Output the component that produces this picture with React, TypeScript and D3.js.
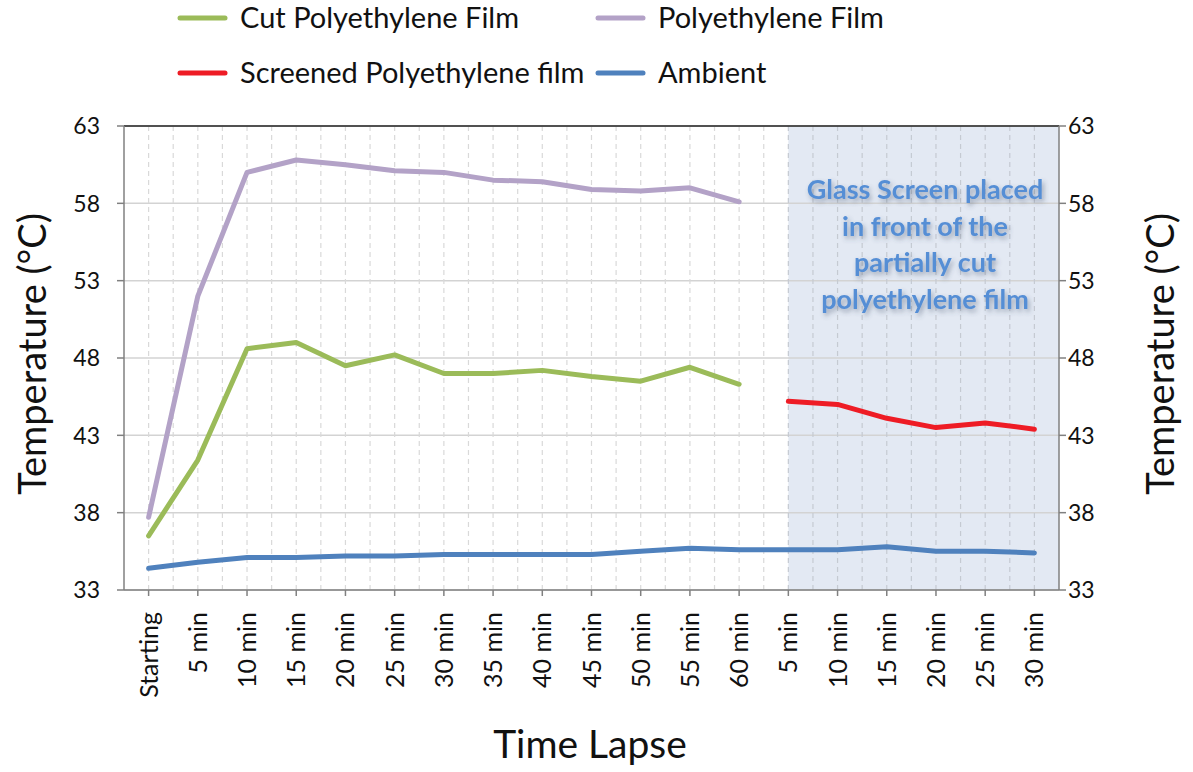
import React from 'react';
import * as d3 from 'd3';

const categories = [
  'Starting', '5 min', '10 min', '15 min', '20 min', '25 min', '30 min', '35 min', '40 min',
  '45 min', '50 min', '55 min', '60 min', '5 min', '10 min', '15 min', '20 min', '25 min', '30 min',
];

const cutFilm = [36.5, 41.4, 48.6, 49.0, 47.5, 48.2, 47.0, 47.0, 47.2, 46.8, 46.5, 47.4, 46.3,
  null, null, null, null, null, null];
const film = [37.7, 52.0, 60.0, 60.8, 60.5, 60.1, 60.0, 59.5, 59.4, 58.9, 58.8, 59.0, 58.1,
  null, null, null, null, null, null];
const screened = [null, null, null, null, null, null, null, null, null, null, null, null, null,
  45.2, 45.0, 44.1, 43.5, 43.8, 43.4];
const ambient = [34.4, 34.8, 35.1, 35.1, 35.2, 35.2, 35.3, 35.3, 35.3, 35.3, 35.5, 35.7, 35.6,
  35.6, 35.6, 35.8, 35.5, 35.5, 35.4];

const yTicks = [33, 38, 43, 48, 53, 58, 63];
const annotation = ['Glass Screen placed', 'in front of the', 'partially cut', 'polyethylene film'];

const series = [
  { name: 'Cut Polyethylene Film', values: cutFilm, color: '#9BBB59' },
  { name: 'Polyethylene Film', values: film, color: '#B3A2C7' },
  { name: 'Screened Polyethylene film', values: screened, color: '#EE1C25' },
  { name: 'Ambient', values: ambient, color: '#4F81BD' },
];

const W = 1193, H = 772;
const left = 124, right = 1059, top = 126, bottom = 590;
const FONT = 'Lato, "Open Sans", sans-serif';

export default function App() {
  const idx = categories.map((_, i) => i);
  const x = d3.scaleBand<number>().domain(idx).range([left, right]);
  const bw = x.bandwidth();
  const cx = (i: number) => (x(i) as number) + bw / 2;
  const y = d3.scaleLinear().domain([33, 63]).range([bottom, top]);

  const line = d3.line<number | null>()
    .defined(d => d !== null)
    .x((_, i) => cx(i))
    .y(d => y(d as number));

  // dashed verticals at every half band
  const halfLines: number[] = [];
  idx.forEach(i => {
    halfLines.push(cx(i));
    if (i < idx.length - 1) halfLines.push((x(i) as number) + bw);
  });

  const shadeX = cx(13);
  const annX = 925;

  const legend = [
    { s: series[0], lx: 180, ly: 18 },
    { s: series[1], lx: 598, ly: 18 },
    { s: series[2], lx: 180, ly: 73 },
    { s: series[3], lx: 598, ly: 73 },
  ];

  return (
    <svg width={W} height={H} style={{ position: 'absolute', left: 0, top: 0, background: '#fff' }}
      fontFamily={FONT}>
      <defs>
        <filter id="shadow" x="-10%" y="-30%" width="120%" height="160%">
          <feDropShadow dx="2" dy="3" stdDeviation="2.5" floodColor="#3a4a66" floodOpacity="0.45" />
        </filter>
      </defs>

      {/* shaded region */}
      <rect x={shadeX} y={top} width={right - shadeX} height={bottom - top} fill="#E3E9F3" />

      {/* horizontal gridlines */}
      {yTicks.map(t => (
        <line key={'h' + t} x1={left} x2={right} y1={y(t)} y2={y(t)} stroke="#D3D3D3" strokeWidth={1.5} />
      ))}

      {/* vertical dashed gridlines */}
      {halfLines.map((v, i) => (
        <line key={'v' + i} x1={v} x2={v} y1={top} y2={bottom}
          stroke={v >= shadeX - 1 ? '#C5CAD2' : '#D9D9D9'} strokeWidth={1.2} strokeDasharray="5,4" />
      ))}

      {/* top border */}
      <line x1={left} x2={right} y1={top} y2={top} stroke="#222" strokeWidth={1.5} />

      {/* left axis */}
      <line x1={left} x2={left} y1={top} y2={bottom} stroke="#808080" strokeWidth={1.5} />
      {yTicks.map(t => (
        <g key={'ly' + t}>
          <line x1={left - 7} x2={left} y1={y(t)} y2={y(t)} stroke="#808080" strokeWidth={1.5} />
          <text x={left - 24} y={y(t)} dy="0.36em" textAnchor="end" fontSize={23} fill="#111">{t}</text>
        </g>
      ))}

      {/* right axis */}
      <line x1={right} x2={right} y1={top} y2={bottom} stroke="#808080" strokeWidth={1.5} />
      {yTicks.map(t => (
        <g key={'ry' + t}>
          <line x1={right} x2={right + 7} y1={y(t)} y2={y(t)} stroke="#808080" strokeWidth={1.5} />
          <text x={right + 9} y={y(t)} dy="0.36em" textAnchor="start" fontSize={23} fill="#111">{t}</text>
        </g>
      ))}

      {/* bottom axis */}
      <line x1={left} x2={right} y1={bottom} y2={bottom} stroke="#808080" strokeWidth={1.5} />
      {idx.map(i => (
        <g key={'xt' + i}>
          <line x1={cx(i)} x2={cx(i)} y1={bottom} y2={bottom + 6} stroke="#808080" strokeWidth={1.5} />
          <text transform={`translate(${cx(i)},${bottom + 22}) rotate(-90)`} dy="0.36em"
            textAnchor="end" fontSize={25} fill="#111">{categories[i]}</text>
        </g>
      ))}

      {/* series */}
      {series.map(s => (
        <path key={s.name} d={line(s.values) || ''} fill="none" stroke={s.color} strokeWidth={5}
          strokeLinejoin="round" strokeLinecap="round" />
      ))}

      {/* annotation */}
      <g filter="url(#shadow)">
        {annotation.map((t, i) => (
          <text key={t} x={annX} y={190 + i * 36.5} dy="0.35em" textAnchor="middle" fontSize={27}
            fontWeight="bold" fill="#558ED5">{t}</text>
        ))}
      </g>

      {/* axis titles */}
      <text transform={`translate(33,${354}) rotate(-90)`} textAnchor="middle"
        dy="0.35em" fontSize={38} fill="#111">Temperature (°C)</text>
      <text transform={`translate(1161,${354}) rotate(-90)`} textAnchor="middle"
        dy="0.35em" fontSize={38} fill="#111">Temperature (°C)</text>
      <text x={590} y={758} textAnchor="middle" fontSize={39} fill="#111">Time Lapse</text>

      {/* legend */}
      {legend.map(({ s, lx, ly }) => (
        <g key={'lg' + s.name}>
          <line x1={lx} x2={lx + 45} y1={ly} y2={ly} stroke={s.color} strokeWidth={5} strokeLinecap="round" />
          <text x={lx + 60} y={ly} dy="0.35em" fontSize={29} fill="#111">{s.name}</text>
        </g>
      ))}
    </svg>
  );
}
